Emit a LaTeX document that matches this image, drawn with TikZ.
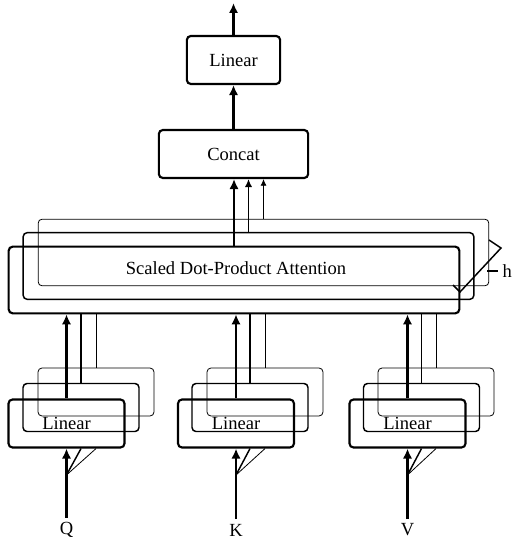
\documentclass[tikz,border=0pt]{standalone}
\usepackage{fontspec}
\setmainfont{Liberation Serif}
\usetikzlibrary{positioning}
\usetikzlibrary{calc}
\usetikzlibrary{arrows.meta}

\begin{document}
\begin{tikzpicture}[
                      x=0.75pt, y=-0.75pt,
                      thk/.style={line width=1.6pt, >={Latex[length=7.5pt,width=7pt]}},
                      med/.style={line width=1.1pt, >={Latex[length=6pt,width=5.5pt]}},
                      thn/.style={line width=0.6pt, >={Latex[length=5pt,width=4.5pt]}},
                      box/.style={draw, rounded corners=3pt, inner sep=0pt},
                      linbox/.style={box, minimum width=87pt, minimum height=36pt},
                      attbox/.style={box, minimum width=338pt, minimum height=50pt},
                      every node/.style={font=\fontsize{13.9}{16}\selectfont}
                  ]
                  \useasboundingbox (0,0) rectangle (512,545);
                  % top
                  \node[box, thk, minimum width=70pt, minimum height=36pt] at (233.5,60) (lin) {Linear};
                  \node[box, thk, minimum width=112pt, minimum height=36pt] at (233.5,154) (concat) {Concat};
                  \coordinate (out) at (233.5,3);
                  \draw[thk,->] (lin) -- (out);
                  \draw[thk,->] (concat) -- (lin);
                  % attention heads
                  \node[attbox, thn] at (263.5,252.5) (att3) {};
                  \node[attbox, med] at (248.5,266) (att2) {};
                  \node[attbox, thk] at (234,280) (att1) {};
                  \node at (236,268) (sdpa) {Scaled Dot-Product Attention};
                  \draw[thk,->] (att1.north) -- (att1.north |- concat.south);
                  \draw[med,->] (att2.north) -- (att2.north |- concat.south);
                  \draw[thn,->] (att3.north) -- (att3.north |- concat.south);
                  % h
                  \coordinate (b1) at (489,240);
                  \coordinate (b2) at (501,248);
                  \coordinate (b3) at (460,292);
                  \coordinate (b4) at (453,285);
                  \draw[med] (b1) -- (b2) -- (b3) -- (b4);
                  \node[anchor=west] at (498,271) (h) {h};
                  \draw[med] (487,271) -- (h.west);
                  % Q
                  \node[linbox, thn] at (96,392) (lq3) {};
                  \node[linbox, med] at (81,407.5) (lq2) {};
                  \node[linbox, thk] at (66.5,423.5) (lq1) {Linear};
                  \node at (66.5,530) (inq) {Q};
                  \coordinate (fq) at (66.5,475);
                  \draw[thk,->] (inq) -- (lq1);
                  \draw[med] (fq) -- (lq2.south |- lq1.south);
                  \draw[thn] (fq) -- (lq3.south |- lq1.south);
                  \draw[thk,->] (lq1) -- (lq1 |- att1.south);
                  \draw[med] (lq2) -- (lq2 |- att1.south);
                  \draw[thn] (lq3) -- (lq3 |- att1.south);
                  % K
                  \node[linbox, thn] at (265,392) (lk3) {};
                  \node[linbox, med] at (250,407.5) (lk2) {};
                  \node[linbox, thk] at (236,423.5) (lk1) {Linear};
                  \node at (236,530) (ink) {K};
                  \coordinate (fk) at (236,475);
                  \draw[thk,->] (ink) -- (lk1);
                  \draw[med] (fk) -- (lk2.south |- lk1.south);
                  \draw[thn] (fk) -- (lk3.south |- lk1.south);
                  \draw[thk,->] (lk1) -- (lk1 |- att1.south);
                  \draw[med] (lk2) -- (lk2 |- att1.south);
                  \draw[thn] (lk3) -- (lk3 |- att1.south);
                  % V
                  \node[linbox, thn] at (436,392) (lv3) {};
                  \node[linbox, med] at (421.5,407.5) (lv2) {};
                  \node[linbox, thk] at (407.5,423.5) (lv1) {Linear};
                  \node at (407.5,530) (inv) {V};
                  \coordinate (fv) at (407.5,475);
                  \draw[thk,->] (inv) -- (lv1);
                  \draw[med] (fv) -- (lv2.south |- lv1.south);
                  \draw[thn] (fv) -- (lv3.south |- lv1.south);
                  \draw[thk,->] (lv1) -- (lv1 |- att1.south);
                  \draw[med] (lv2) -- (lv2 |- att1.south);
                  \draw[thn] (lv3) -- (lv3 |- att1.south);
              \end{tikzpicture}
\end{document}
